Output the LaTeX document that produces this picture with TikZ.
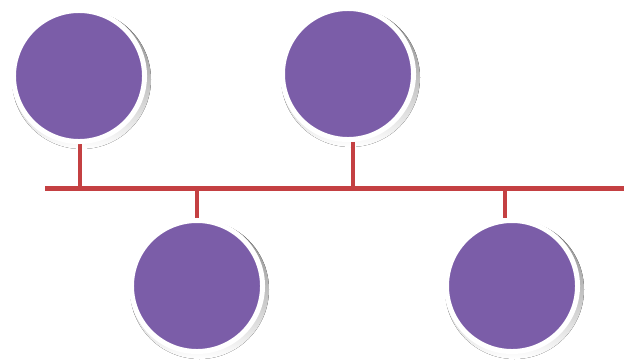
\documentclass[tikz,border=0pt]{standalone}
\usepackage{tikz}
\usetikzlibrary{backgrounds,calc}
\usepackage{xcolor}
\definecolor{violet2}{HTML}{7B5DA8}
\definecolor{busred}{HTML}{C44042}
\definecolor{shade}{HTML}{B8B8B8}

\begin{document}
\begin{tikzpicture}[
  x=0.04cm, y=-0.04cm,
  host/.style={circle, fill=violet2, draw=white, line width=0.2cm, inner sep=0pt, minimum size=5.24cm},
  bus/.style={draw=busred, line width=0.2cm},
  tap/.style={draw=busred, line width=0.16cm}
]
\useasboundingbox (0,0) rectangle (624,360);

\node[host] (pc1) at (79,76) {};
\node[host] (pc2) at (348,74) {};
\node[host] (pc3) at (197,286) {};
\node[host] (pc4) at (512,286) {};

\coordinate (busL) at (45,188);
\coordinate (busR) at (624,188);

\begin{scope}[on background layer]
  % soft shadow behind each host
  \foreach \n in {pc1,pc2,pc3,pc4}
    \fill[shade] ($(\n)+(2.5,3.5)$) circle (69.5);
  \draw[bus] (busL) -- (busR);
  \draw[tap] ($(pc1.south)+(1,0)$) -- ($(pc1.south |- busL)+(1,0)$);
  \draw[tap] ($(pc2.south)+(5,0)$) -- ($(pc2.south |- busL)+(5,0)$);
  \draw[tap] (pc3.north) -- (pc3.north |- busL);
  \draw[tap] ($(pc4.north)+(-7,0)$) -- ($(pc4.north |- busL)+(-7,0)$);
\end{scope}

\end{tikzpicture}
\end{document}
